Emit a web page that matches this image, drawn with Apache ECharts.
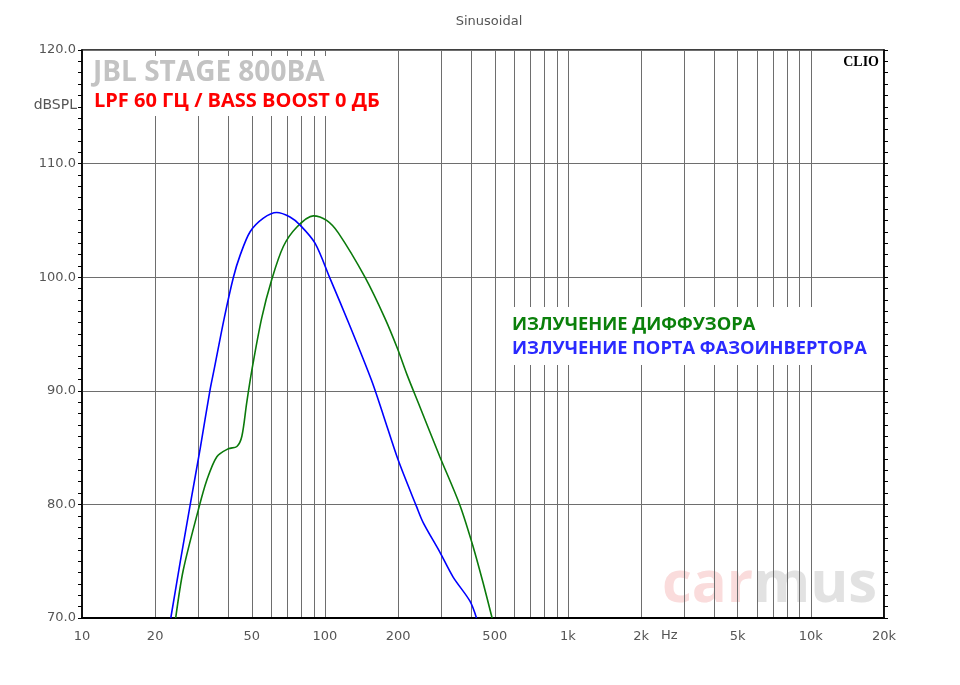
<!DOCTYPE html>
<html>
<head>
<meta charset="utf-8">
<script src="https://cdn.jsdelivr.net/npm/echarts@6/dist/echarts.min.js"></script>
<style>html,body{margin:0;padding:0;background:#fff}#c{width:960px;height:685px}</style>
</head>
<body>
<div id="c"></div>
<script>
// Port (bass-reflex) radiation
const portFreq = [23.2, 25.4, 27.9, 30.7, 33.6, 35.0, 38.5, 42.0, 44.7, 49.2, 55.8, 63.3, 71.8, 78.9, 91.0, 104.9, 126.7, 155.6, 173.6, 200.2, 238.3, 253.7, 297.1, 337, 394.8, 420.5];
const portDb   = [70.0, 75.0, 80.0, 85.0, 90.0, 91.9, 96.4, 100.0, 101.9, 104.0, 105.2, 105.7, 105.3, 104.6, 103.0, 99.9, 95.7, 90.9, 87.9, 83.9, 79.8, 78.4, 75.8, 73.6, 71.5, 70.0];
// Cone (diffuser) radiation
const coneFreq = [24.3, 26.1, 30.1, 32.6, 35.9, 40.0, 43.4, 45.5, 47.6, 50.0, 54.9, 60.4, 67.4, 76.5, 89.5, 101.6, 113.5, 146.1, 176.4, 199.0, 217.8, 245.8, 297.1, 359, 407, 447.6, 487.5];
const coneDb   = [70.0, 74.2, 79.5, 82.1, 84.2, 84.9, 85.1, 86.0, 88.9, 91.8, 96.4, 99.8, 102.7, 104.4, 105.4, 105.0, 103.9, 100.0, 96.4, 93.7, 91.4, 88.6, 84.2, 79.95, 76.3, 73.1, 70.0];

const gridFreqs = [20,30,40,50,60,70,80,90,100,200,300,400,500,600,700,800,900,1000,2000,3000,4000,5000,6000,7000,8000,9000,10000,20000];
const labelFreqs = [10,20,50,100,200,500,1000,2000,5000,10000,20000];
const yMin = 70, yMax = 120, yStep = 10;

const chart = echarts.init(document.getElementById('c'));
const lblFont = {color:'#555', fontFamily:'DejaVu Sans, sans-serif', fontSize:13};
chart.setOption({
  animation:false,
  backgroundColor:'#fff',
  grid:{left:82,right:76,top:50,bottom:67,show:true,borderColor:'#000',borderWidth:1.5,backgroundColor:'transparent'},
  xAxis:{
    type:'log', logBase:10, min:10, max:20000,
    axisLine:{show:true,onZero:false,lineStyle:{color:'#000',width:2}},
    axisTick:{show:false,customValues:gridFreqs},
    splitLine:{show:true,lineStyle:{color:'#6e6e6e',width:1}},
    minorTick:{show:false}, minorSplitLine:{show:false},
    axisLabel:Object.assign({customValues:labelFreqs,margin:12,showMinLabel:true,showMaxLabel:true,
      formatter:v=> v>=1000 ? (v/1000)+'k' : String(v)}, lblFont)
  },
  yAxis:[{
    type:'value', min:yMin, max:yMax, interval:yStep, position:'left',
    axisLine:{show:true,lineStyle:{color:'#000',width:1.5}},
    axisTick:{show:true,inside:false,length:4,lineStyle:{color:'#000'}},
    minorTick:{show:true,splitNumber:10,length:4,lineStyle:{color:'#000'}},
    splitLine:{show:true,lineStyle:{color:'#6e6e6e',width:1}},
    axisLabel:Object.assign({margin:6,formatter:v=>v.toFixed(1)}, lblFont)
  },{
    type:'value', min:yMin, max:yMax, interval:yStep, position:'right',
    axisLine:{show:true,lineStyle:{color:'#000',width:1.5}},
    axisTick:{show:true,inside:false,length:4,lineStyle:{color:'#000'}},
    minorTick:{show:true,splitNumber:10,length:4,lineStyle:{color:'#000'}},
    splitLine:{show:false}, axisLabel:{show:false}
  }],
  series:[
    {type:'line',name:'cone',data:coneFreq.map((f,i)=>[f,coneDb[i]]),showSymbol:false,smooth:0.3,
     lineStyle:{color:'#0b7a0b',width:1.6},z:5},
    {type:'line',name:'port',data:portFreq.map((f,i)=>[f,portDb[i]]),showSymbol:false,smooth:0.3,
     lineStyle:{color:'#0000ff',width:1.6},z:6}
  ],
  graphic:[
    {type:'text',z:-1,left:662,top:556,style:{
      text:'{a|car}{b|mus}',
      rich:{a:{fill:'#fadcdc',font:'bold 58px "Open Sans", sans-serif'},b:{fill:'#e2e2e2',font:'bold 58px "Open Sans", sans-serif'}}}},
    {type:'rect',z:50,shape:{x:88,y:56,width:292,height:60},style:{fill:'#fff'}},
    {type:'rect',z:50,shape:{x:505,y:307,width:372,height:58},style:{fill:'#fff'}},
    {type:'text',z:60,x:489,y:22,style:{text:'Sinusoidal',fill:'#555',font:'13px "DejaVu Sans", sans-serif',align:'center',verticalAlign:'middle'}},
    {type:'text',z:60,x:77,y:105,style:{text:'dBSPL',fill:'#555',font:'14px "DejaVu Sans", sans-serif',align:'right',verticalAlign:'middle'}},
    {type:'text',z:60,x:879,y:62,style:{text:'CLIO',fill:'#000',font:'bold 14px "Liberation Serif", serif',align:'right',verticalAlign:'middle'}},
    {type:'text',z:60,x:93,y:73,style:{text:'JBL STAGE 800BA',fill:'#c3c3c3',font:'bold 28px "Open Sans", sans-serif',align:'left',verticalAlign:'middle'}},
    {type:'text',z:60,x:94,y:101,style:{text:'LPF 60 ГЦ / BASS BOOST 0 ДБ',fill:'#ff0000',font:'bold 20px "Open Sans", sans-serif',align:'left',verticalAlign:'middle'}},
    {type:'text',z:60,x:512,y:325,style:{text:'ИЗЛУЧЕНИЕ ДИФФУЗОРА',fill:'#0b800b',font:'bold 18.3px "Open Sans", sans-serif',align:'left',verticalAlign:'middle'}},
    {type:'text',z:60,x:512,y:349,style:{text:'ИЗЛУЧЕНИЕ ПОРТА ФАЗОИНВЕРТОРА',fill:'#2a2aff',font:'bold 18.3px "Open Sans", sans-serif',align:'left',verticalAlign:'middle'}},
    {type:'text',z:60,x:661,y:636,style:{text:'Hz',fill:'#555',font:'13px "DejaVu Sans", sans-serif',align:'left',verticalAlign:'middle'}}
  ]
});
</script>
</body>
</html>
